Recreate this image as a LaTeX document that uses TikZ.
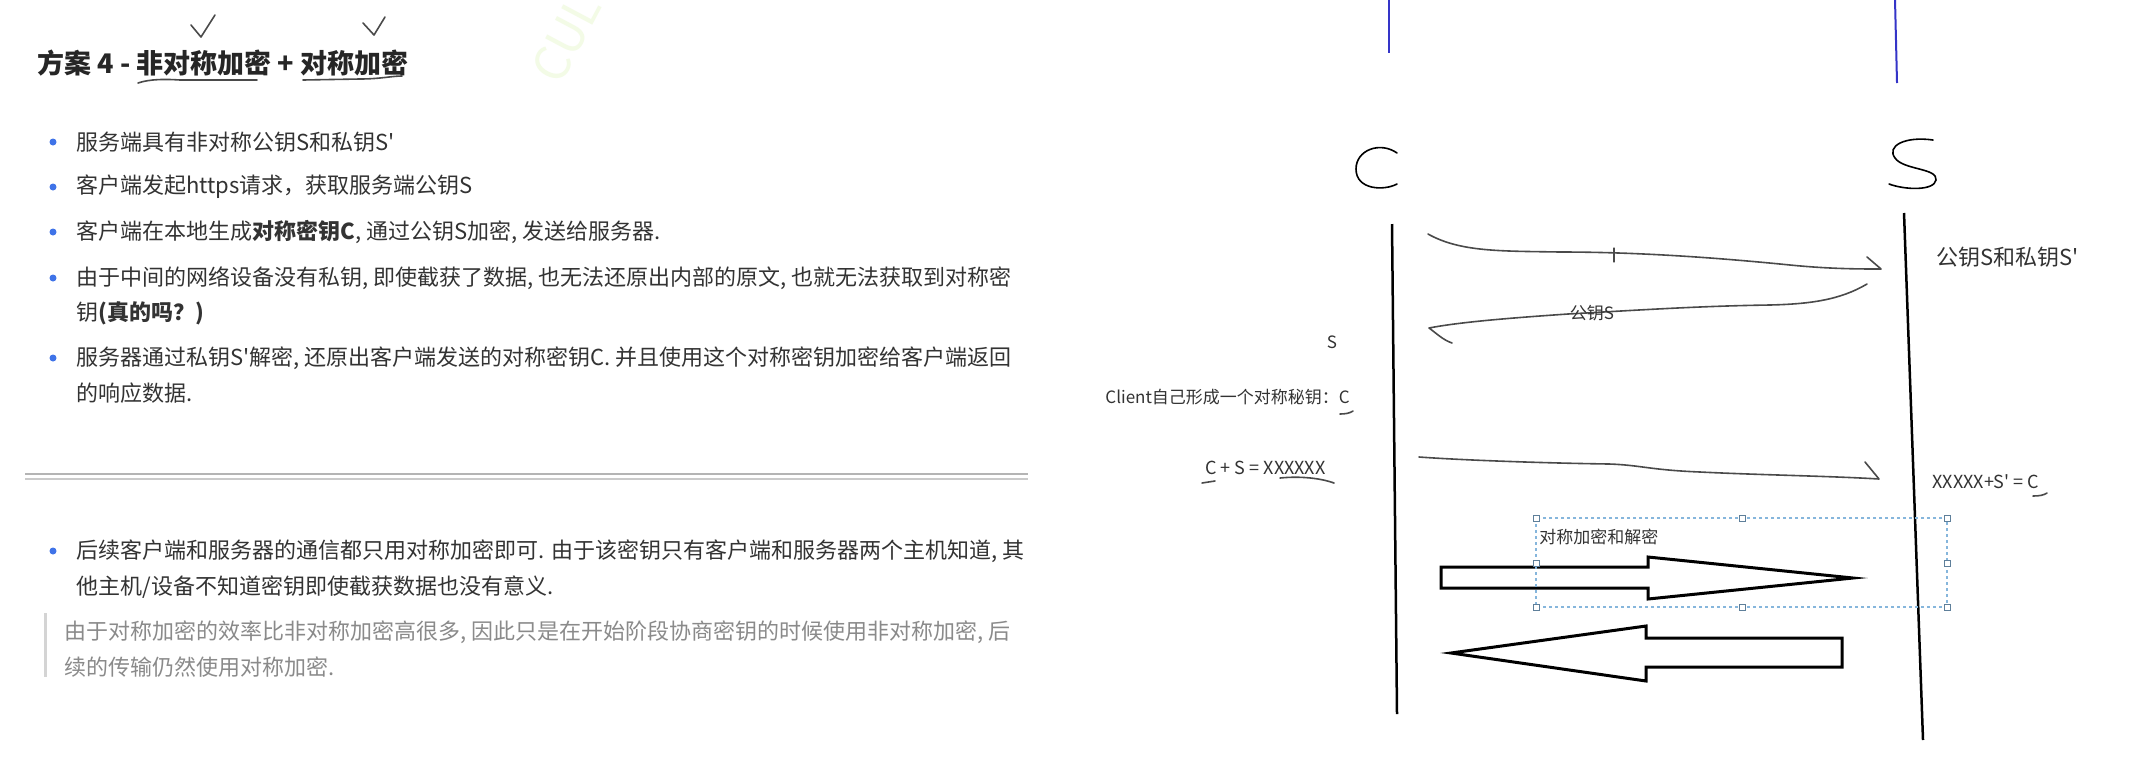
\documentclass[tikz,border=0pt]{standalone}
\usepackage{fontspec}
\setmainfont{Noto Sans CJK SC}
\usetikzlibrary{positioning}
\definecolor{NoteText}{HTML}{333333}
\definecolor{NoteGray}{HTML}{8a8a8a}
\definecolor{NoteBar}{HTML}{d4d4d4}
\definecolor{NoteRule}{HTML}{b4b4b4}
\definecolor{BulletBlue}{HTML}{3f73e8}
\definecolor{PenBlue}{HTML}{3535c8}
\definecolor{PenInk}{HTML}{4a4a4a}
\definecolor{SelectBlue}{HTML}{86b6dc}
\definecolor{Watermark}{HTML}{f3fbe6}
\tikzset{
    % note page on the left
    note line/.style={
        anchor=west,
        inner sep=0pt,
        text=NoteText,
        font=\fontsize{11}{13}\selectfont
    },
    note title/.style={
        note line,
        text=black!85,
        font=\fontsize{13.5}{16}\selectfont\bfseries
    },
    quote line/.style={
        note line,
        text=NoteGray
    },
    bullet dot/.style={
        circle,
        fill=BulletBlue,
        inner sep=0pt,
        minimum size=3.5pt
    },
    % whiteboard on the right
    board label/.style={
        inner sep=0pt,
        text=black!80,
        font=\fontsize{8.5}{10}\selectfont
    },
    lifeline/.style={
        line width=1.25pt,
        black
    },
    pen stroke/.style={
        line width=0.8pt,
        PenInk,
        line cap=round,
        line join=round
    },
    block arrow/.style={
        line width=1.5pt,
        black,
        fill=white
    },
    select box/.style={
        SelectBlue,
        line width=0.6pt,
        dash pattern=on 1.5pt off 1.5pt
    },
    select handle/.style={
        rectangle,
        draw=SelectBlue!70!black,
        fill=white,
        line width=0.4pt,
        inner sep=0pt,
        minimum size=3pt
    }
}
\begin{document}
\begin{tikzpicture}[x=0.5pt, y=-0.5pt]
    \useasboundingbox[fill=white] (0,0) rectangle (2134,756);

    % faint watermark
    \node[rotate=62, text=Watermark, font=\fontsize{24}{24}\selectfont] (mark) at (566,38) {CUL};

    % title with the hand ticks
    \node[note title] (title) at (37,63) {方案 4 - 非对称加密 + 对称加密};
    \draw[pen stroke] (191,25) -- (201,37) -- (215,15);
    \draw[pen stroke] (363,23) -- (374,35) -- (385,17);
    \draw[pen stroke] (138,83) .. controls (150,79) and (165,79) .. (180,80) -- (257,80);
    \draw[pen stroke] (303,80) -- (360,79) .. controls (380,79) and (392,76) .. (402,76);

    % bullets
    \foreach \y [count=\i] in {142,187,232,278,358,551}
        \node[bullet dot] (dot\i) at (53,\y) {};
    \node[note line] (item1) at (76,142) {服务端具有非对称公钥S和私钥S\textquotesingle};
    \node[note line] (item2) at (76,187) {客户端发起https请求，获取服务端公钥S};
    \node[note line] (item3) at (76,232) {客户端在本地生成\textbf{对称密钥C}, 通过公钥S加密, 发送给服务器.};
    \node[note line] (item4) at (76,278) {由于中间的网络设备没有私钥, 即使截获了数据, 也无法还原出内部的原文, 也就无法获取到对称密};
    \node[note line] (item4b) at (76,313) {钥\textbf{(真的吗？)}};
    \node[note line] (item5) at (76,358) {服务器通过私钥S\textquotesingle 解密, 还原出客户端发送的对称密钥C. 并且使用这个对称密钥加密给客户端返回};
    \node[note line] (item5b) at (76,393) {的响应数据.};

    % double rule
    \draw[NoteRule, line width=1pt] (25,474) -- (1028,474);
    \draw[NoteRule!70, line width=1pt] (25,479) -- (1028,479);

    \node[note line] (item6) at (76,551) {后续客户端和服务器的通信都只用对称加密即可. 由于该密钥只有客户端和服务器两个主机知道, 其};
    \node[note line] (item6b) at (76,587) {他主机/设备不知道密钥即使截获数据也没有意义.};

    % quote
    \draw[NoteBar, line width=1.5pt] (45,613) -- (45,677);
    \node[quote line] (quote1) at (64,632) {由于对称加密的效率比非对称加密高很多, 因此只是在开始阶段协商密钥的时候使用非对称加密, 后};
    \node[quote line] (quote2) at (64,667) {续的传输仍然使用对称加密.};

    % whiteboard: blue pen marks
    \draw[PenBlue, line width=1pt] (1389,0) -- (1389,53);
    \draw[PenBlue, line width=1pt] (1895,0) -- (1897,83);

    % hand written C and S
    \draw[black, line width=0.8pt, line cap=round] (1397,153) .. controls (1380,141) and (1356,150) .. (1356,169)
        .. controls (1356,190) and (1384,191) .. (1397,184);
    \draw[black, line width=0.8pt, line cap=round] (1933,140) .. controls (1905,136) and (1886,146) .. (1895,158)
        .. controls (1903,170) and (1938,168) .. (1936,180) .. controls (1934,191) and (1905,190) .. (1889,184);

    % lifelines
    \coordinate (cTop) at (1392,224);
    \coordinate (cBot) at (1397,714);
    \coordinate (sTop) at (1904,213);
    \coordinate (sBot) at (1923,740);
    \draw[lifeline] (cTop) -- (cBot);
    \draw[lifeline] (sTop) -- (sBot);

    % message 1
    \coordinate (m1a) at (1428,234);
    \coordinate (m1b) at (1881,269);
    \draw[pen stroke] (m1a) .. controls (1460,252) and (1500,251) .. (1560,252)
        .. controls (1640,252) and (1720,258) .. (1790,265)
        .. controls (1830,269) and (1860,269) .. (m1b) -- (1867,257);
    \draw[pen stroke, line width=0.6pt] (1614,248) -- (1614,262);
    \node[board label, anchor=west] (pair) at (1936,257) {\fontsize{11}{13}\selectfont 公钥S和私钥S\textquotesingle};

    % message 2
    \coordinate (m2a) at (1867,284);
    \coordinate (m2b) at (1429,328);
    \draw[pen stroke] (m2a) .. controls (1840,300) and (1810,304) .. (1770,305)
        .. controls (1700,306) and (1640,310) .. (1568,314)
        .. controls (1510,318) and (1460,322) .. (m2b)
        .. controls (1436,333) and (1443,340) .. (1452,343);
    \node[board label] (pubkey) at (1592,313) {公钥S};
    \node[board label] (gotS) at (1332,342) {S};

    % client key
    \node[board label, anchor=west] (ckey) at (1105,397) {Client自己形成一个对称秘钥：C};
    \draw[pen stroke] (1340,414) .. controls (1346,414) and (1350,413) .. (1353,411);

    % message 3
    \coordinate (m3a) at (1419,457);
    \coordinate (m3b) at (1879,479);
    \draw[pen stroke] (m3a) .. controls (1460,460) and (1540,463) .. (1609,464)
        .. controls (1640,465) and (1650,470) .. (1700,472)
        .. controls (1760,475) and (1830,476) .. (m3b) -- (1865,462);
    \node[board label, anchor=west, font=\fontsize{9}{11}\selectfont] (enc) at (1205,468) {C + S = XXXXXX};
    \draw[pen stroke] (1202,483) -- (1215,481);
    \draw[pen stroke] (1280,478) .. controls (1300,476) and (1320,478) .. (1334,483);
    \node[board label, anchor=west, font=\fontsize{9}{11}\selectfont] (dec) at (1932,482) {XXXXX+S\textquotesingle{} = C};
    \draw[pen stroke] (2033,496) .. controls (2040,496) and (2044,495) .. (2047,493);

    % symmetric traffic
    \draw[block arrow] (1441,567) -- (1648,567) -- (1648,557) -- (1853,578) -- (1648,599) -- (1648,588) -- (1441,588) -- cycle;
    \draw[block arrow] (1451,653) -- (1646,626) -- (1646,638) -- (1842,638) -- (1842,667) -- (1646,667) -- (1646,681) -- cycle;

    % selected text box
    \draw[select box] (1536,518) rectangle (1947,607);
    \foreach \hx/\hy in {1536/518,1742/518,1947/518,1536/563,1947/563,1536/607,1742/607,1947/607}
        \node[select handle] at (\hx,\hy) {};
    \node[board label, anchor=west] (sym) at (1539,537) {对称加密和解密};
\end{tikzpicture}
\end{document}
